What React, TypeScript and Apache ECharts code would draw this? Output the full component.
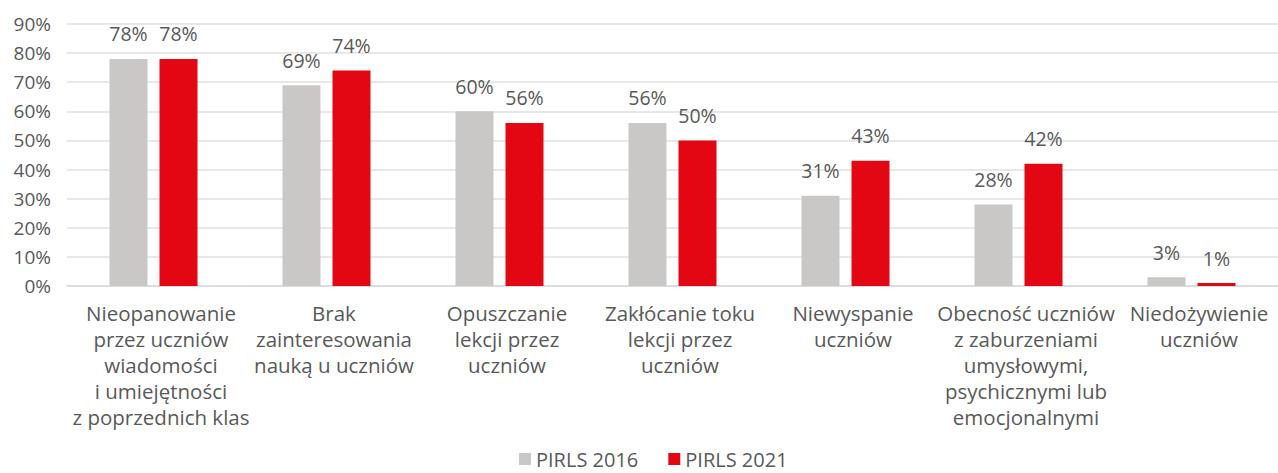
import React, { useEffect, useRef } from "react";
import * as echarts from "echarts";

const categories = [
  "Nieopanowanie\nprzez uczniów\nwiadomości\ni umiejętności\nz poprzednich klas",
  "Brak\nzainteresowania\nnauką u uczniów",
  "Opuszczanie\nlekcji przez\nuczniów",
  "Zakłócanie toku\nlekcji przez\nuczniów",
  "Niewyspanie\nuczniów",
  "Obecność uczniów\nz zaburzeniami\numysłowymi,\npsychicznymi lub\nemocjonalnymi",
  "Niedożywienie\nuczniów",
];
const pirls2016 = [78, 69, 60, 56, 31, 28, 3];
const pirls2021 = [78, 74, 56, 50, 43, 42, 1];
const seriesNames = ["PIRLS 2016", "PIRLS 2021"];

const FONT = "'Open Sans', 'Noto Sans', sans-serif";
const TEXT = "#595959";

export default function App() {
  const ref = useRef<HTMLDivElement>(null);
  useEffect(() => {
    if (!ref.current) return;
    const chart = echarts.init(ref.current, undefined, { renderer: "svg" });
    const label = {
      show: true,
      position: "top" as const,
      distance: 15,
      formatter: "{c}%",
      color: TEXT,
      fontFamily: FONT,
      fontSize: 19.5,
    };
    chart.setOption({
      animation: false,
      textStyle: { fontFamily: FONT },
      grid: { left: 67, top: 24, width: 1221, height: 262, containLabel: false },
      legend: {
        bottom: 3,
        left: 519,
        padding: 0,
        itemWidth: 12,
        itemHeight: 12,
        itemGap: 30,
        icon: "rect",
        textStyle: { color: TEXT, fontFamily: FONT, fontSize: 20, lineHeight: 22 },
        data: seriesNames,
      },
      xAxis: {
        type: "category",
        data: categories,
        axisLine: { show: true, lineStyle: { color: "#d9d9d9", width: 1.5 } },
        axisTick: { show: false },
        axisLabel: {
          interval: 0,
          color: TEXT,
          fontFamily: FONT,
          fontSize: 20.5,
          lineHeight: 26,
          margin: 14,
          padding: [0, 0, 0, 15],
        },
      },
      yAxis: {
        type: "value",
        min: 0,
        max: 90,
        interval: 10,
        axisLine: { show: false },
        axisTick: { show: false },
        splitLine: { lineStyle: { color: "#e0e0e0", width: 1.5 } },
        axisLabel: {
          formatter: "{value}%",
          color: TEXT,
          fontFamily: FONT,
          fontSize: 19,
          margin: 16,
        },
      },
      series: [
        {
          name: seriesNames[0],
          type: "bar",
          data: pirls2016,
          barWidth: 38,
          barGap: "31.6%",
          itemStyle: { color: "#c9c8c7" },
          label,
        },
        {
          name: seriesNames[1],
          type: "bar",
          data: pirls2021,
          barWidth: 38,
          barGap: "31.6%",
          itemStyle: { color: "#e30613" },
          label,
        },
      ],
    });
    return () => chart.dispose();
  }, []);
  return (
    <div
      ref={ref}
      style={{ position: "absolute", left: 0, top: 0, width: 1278, height: 473, background: "#fff" }}
    />
  );
}
